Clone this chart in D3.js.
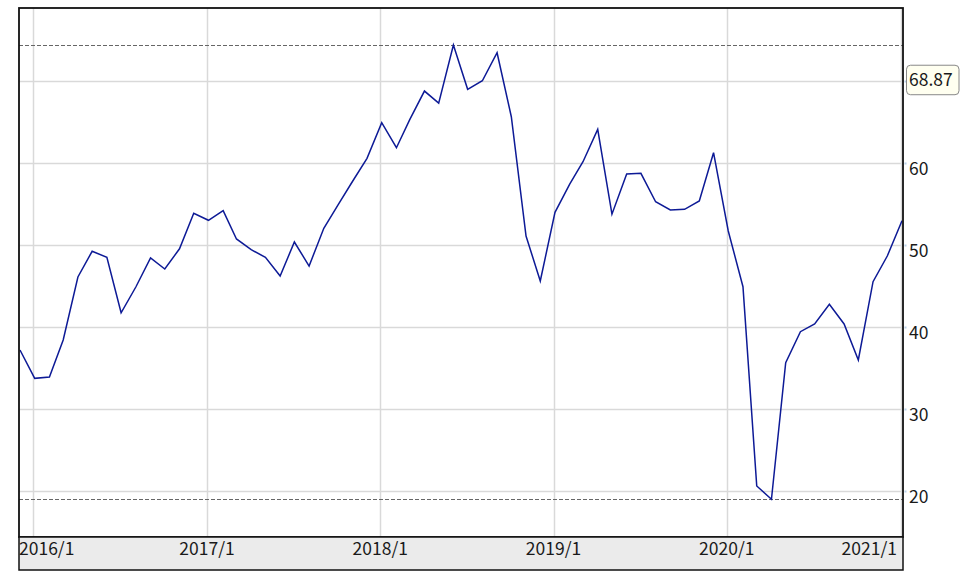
<!DOCTYPE html>
<html>
<head>
<meta charset="utf-8">
<script src="https://cdn.jsdelivr.net/npm/d3@7"></script>
<style>
  html, body { margin: 0; padding: 0; background: #ffffff; }
  svg { display: block; }
  text { font-family: "Noto Sans CJK JP", "DejaVu Sans", sans-serif; fill: #1a1a1a; }
</style>
</head>
<body>
<svg id="chart" width="975" height="578"></svg>
<script>
// ---- data ----
const months = [
  "2015/12",
  "2016/1","2016/2","2016/3","2016/4","2016/5","2016/6","2016/7","2016/8","2016/9","2016/10","2016/11","2016/12",
  "2017/1","2017/2","2017/3","2017/4","2017/5","2017/6","2017/7","2017/8","2017/9","2017/10","2017/11","2017/12",
  "2018/1","2018/2","2018/3","2018/4","2018/5","2018/6","2018/7","2018/8","2018/9","2018/10","2018/11","2018/12",
  "2019/1","2019/2","2019/3","2019/4","2019/5","2019/6","2019/7","2019/8","2019/9","2019/10","2019/11","2019/12",
  "2020/1","2020/2","2020/3","2020/4","2020/5","2020/6","2020/7","2020/8","2020/9","2020/10","2020/11","2020/12",
  "2021/1"
];
const values = [
  37.16,
  33.70, 33.87, 38.38, 46.06, 49.20, 48.46, 41.70, 44.84, 48.38, 47.04, 49.50, 53.83,
  52.98, 54.15, 50.70, 49.39, 48.46, 46.18, 50.33, 47.40, 52.00, 54.86, 57.77, 60.54,
  64.88, 61.83, 65.25, 68.74, 67.27, 74.35, 68.95, 70.00, 73.41, 65.61, 51.06, 45.57,
  53.95, 57.40, 60.12, 64.07, 53.72, 58.62, 58.70, 55.24, 54.23, 54.32, 55.33, 61.22,
  51.67, 44.88, 20.57, 18.95, 35.61, 39.39, 40.33, 42.73, 40.33, 35.94, 45.49, 48.62,
  52.93
];
const xTickLabels = ["2016/1", "2017/1", "2018/1", "2019/1", "2020/1", "2021/1"];
const yTicks = [20, 30, 40, 50, 60];
const yGrid = [20, 30, 40, 50, 60, 70];
const markerLabel = "68.87";
const markerValue = 70;
const yDomain = [14.35, 78.87];

// ---- layout ----
const plot = { left: 19, right: 903, top: 8, bottom: 537 };
const band = { top: 537, bottom: 570 };

const parseMonth = s => { const [y, m] = s.split("/").map(Number); return new Date(y, m - 1, 4); };
const parseTick = s => { const [y, m] = s.split("/").map(Number); return new Date(y, m - 1, 1); };

const data = months.map((m, i) => ({ date: parseMonth(m), value: values[i] }));

const x = d3.scaleTime()
  .domain(d3.extent(data, d => d.date))
  .range([plot.left + 1, plot.right - 1]);
const y = d3.scaleLinear().domain(yDomain).range([plot.bottom, plot.top]);

const svg = d3.select("#chart");

svg.append("rect")
  .attr("x", plot.left).attr("y", plot.top)
  .attr("width", plot.right - plot.left).attr("height", plot.bottom - plot.top)
  .attr("fill", "#ffffff");

svg.append("clipPath").attr("id", "plotclip")
  .append("rect")
  .attr("x", plot.left).attr("y", plot.top)
  .attr("width", plot.right - plot.left).attr("height", plot.bottom - plot.top);

const g = svg.append("g").attr("clip-path", "url(#plotclip)");

// horizontal grid
g.selectAll("line.hgrid").data(yGrid).join("line")
  .attr("class", "hgrid")
  .attr("x1", plot.left).attr("x2", plot.right)
  .attr("y1", d => Math.round(y(d)) + 0.5).attr("y2", d => Math.round(y(d)) + 0.5)
  .attr("stroke", "#d9d9d9").attr("stroke-width", 1.5);

// vertical grid
const tickDates = xTickLabels.map(parseTick);
g.selectAll("line.vgrid").data(tickDates).join("line")
  .attr("class", "vgrid")
  .attr("x1", d => Math.round(x(d)) + 0.5).attr("x2", d => Math.round(x(d)) + 0.5)
  .attr("y1", plot.top).attr("y2", plot.bottom)
  .attr("stroke", "#d9d9d9").attr("stroke-width", 1.5);

// max / min dashed lines
const vmax = d3.max(values), vmin = d3.min(values);
g.selectAll("line.ref").data([vmax, vmin]).join("line")
  .attr("class", "ref")
  .attr("x1", plot.left).attr("x2", plot.right)
  .attr("y1", d => Math.round(y(d)) + 0.5).attr("y2", d => Math.round(y(d)) + 0.5)
  .attr("stroke", "#666").attr("stroke-width", 1)
  .attr("stroke-dasharray", "4,2");

// data line
const line = d3.line().x(d => x(d.date)).y(d => y(d.value));
g.append("path")
  .datum(data)
  .attr("d", line)
  .attr("fill", "none")
  .attr("stroke", "#0d1a96")
  .attr("stroke-width", 1.5)
  .attr("stroke-linejoin", "miter");

// plot frame
svg.append("rect")
  .attr("x", plot.left).attr("y", plot.top)
  .attr("width", plot.right - plot.left).attr("height", plot.bottom - plot.top)
  .attr("fill", "none").attr("stroke", "#111").attr("stroke-width", 1.8);

// bottom band
svg.append("rect")
  .attr("x", plot.left).attr("y", band.top)
  .attr("width", plot.right - plot.left).attr("height", band.bottom - band.top)
  .attr("fill", "#ebebeb").attr("stroke", "#111").attr("stroke-width", 1.5);

// x tick labels (clamped inside band)
svg.selectAll("text.xlab").data(xTickLabels).join("text")
  .attr("class", "xlab")
  .attr("y", 549)
  .attr("dy", "0.35em")
  .attr("font-size", 17.5)
  .text(d => d)
  .each(function (d) {
    const w = this.getComputedTextLength();
    let cx = x(parseTick(d)) - w / 2;
    cx = Math.max(plot.left, Math.min(cx, plot.right - 6 - w));
    d3.select(this).attr("x", cx);
  });

// right axis tick marks
svg.selectAll("rect.ytick").data(yGrid).join("rect")
  .attr("class", "ytick")
  .attr("x", plot.right + 1.5).attr("y", d => Math.round(y(d)) - 0.5)
  .attr("width", 2).attr("height", 2)
  .attr("fill", "#b8d0e8");

// right axis labels (hang just below their grid line)
svg.selectAll("text.ylab").data(yTicks).join("text")
  .attr("class", "ylab")
  .attr("x", 909)
  .attr("y", d => y(d) + 6.5)
  .attr("dy", "0.35em")
  .attr("font-size", 17.5)
  .text(d => d);

// marker label box
const my = y(markerValue);
const mg = svg.append("g");
const mt = mg.append("text")
  .attr("x", 909).attr("y", my - 1).attr("dy", "0.35em")
  .attr("font-size", 17.5)
  .text(markerLabel);
const mw = mt.node().getComputedTextLength();
mg.insert("rect", "text")
  .attr("x", 906.5).attr("y", my - 15.5)
  .attr("width", Math.max(mw + 8, 52.5)).attr("height", 29.5)
  .attr("rx", 4).attr("ry", 4)
  .attr("fill", "#fffff0").attr("stroke", "#888").attr("stroke-width", 1);
</script>
</body>
</html>
